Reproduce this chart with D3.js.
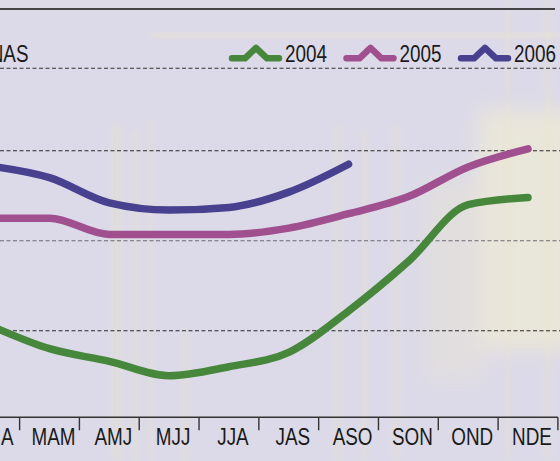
<!DOCTYPE html>
<html>
<head>
<meta charset="utf-8">
<script src="https://cdn.jsdelivr.net/npm/d3@7"></script>
<style>
  body { margin: 0; background: #dcdae8; }
  svg { display: block; }
  text { font-family: "Liberation Sans", Arial, sans-serif; fill: #1a1a1a; }
</style>
</head>
<body>
<div id="chart"></div>
<script>
// three-month windows shown on the x axis
var periods = ["FMA", "MAM", "AMJ", "MJJ", "JJA", "JAS", "ASO", "SON", "OND", "NDE"];
var years = ["2004", "2005", "2006"];
var colours = ["#46873c", "#a0508f", "#47418f"];

// values (same units as the gridlines)
var values2004 = [106, 80, 66, 50, 60, 76, 122, 177, 240, 248];
var values2005 = [225, 225, 207, 207, 207, 214, 230, 249, 282, 302];
var values2006 = [283, 270, 242, 234, 237, 254, 285];
var gridValues = [100, 200, 300];

var width = 560, height = 461;

var svg = d3.select("#chart")
            .append("svg")
            .attr("width", width)
            .attr("height", height);

// soft photo in the background
var defs = svg.append("defs");
defs.append("filter").attr("id", "blur")
    .attr("x", "-50%").attr("y", "-50%").attr("width", "200%").attr("height", "200%")
    .append("feGaussianBlur").attr("stdDeviation", 10);
defs.append("filter").attr("id", "blur2")
    .attr("x", "-100%").attr("width", "300%")
    .append("feGaussianBlur").attr("stdDeviation", 3);

svg.append("rect")
   .attr("width", width).attr("height", height)
   .attr("fill", "#dcdae8");

var photo = svg.append("g");
photo.append("rect").attr("x", 478).attr("y", 110).attr("width", 100).attr("height", 240)
     .attr("fill", "#f3eed2").attr("opacity", 0.6).attr("filter", "url(#blur)");
photo.append("rect").attr("x", 425).attr("y", 180).attr("width", 60).attr("height", 200)
     .attr("fill", "#ece6cf").attr("opacity", 0.35).attr("filter", "url(#blur)");
photo.append("rect").attr("x", 150).attr("y", 33).attr("width", 410).attr("height", 5)
     .attr("fill", "#eee8c8").attr("opacity", 0.5).attr("filter", "url(#blur2)");
var streaks = [[112, 125, 10], [132, 130, 6], [148, 120, 5], [182, 330, 6], [335, 125, 6],
               [362, 130, 5], [393, 125, 6], [545, 0, 6], [505, 0, 5]];
streaks.forEach(function (s) {
	photo.append("rect").attr("x", s[0]).attr("y", s[1]).attr("width", s[2]).attr("height", height - s[1])
	     .attr("fill", "#ebe4c4").attr("opacity", 0.3).attr("filter", "url(#blur2)");
});

// scales
var x = d3.scaleBand()
          .domain(periods)
          .range([-40.2, 557.9])
          .padding(0);
var y = d3.scaleLinear()
          .domain([100, 300])
          .range([330.7, 150.7]);

function cx(d) { return x(d) + x.bandwidth() / 2; }

// condensed look: squeeze Liberation Sans horizontally
function narrow(sel) {
	sel.each(function () {
		var w = this.getComputedTextLength();
		d3.select(this)
		  .attr("textLength", w * 0.82)
		  .attr("lengthAdjust", "spacingAndGlyphs");
	});
}

// top rule
svg.append("line")
   .attr("x1", 0).attr("x2", 555)
   .attr("y1", 9).attr("y2", 9)
   .attr("stroke", "#111").attr("stroke-width", 1.4);

// dashed rule under the legend
svg.append("line")
   .attr("x1", 0).attr("x2", width)
   .attr("y1", 68.3).attr("y2", 68.3)
   .attr("stroke", "#333").attr("stroke-width", 1.1)
   .attr("stroke-dasharray", "4,2.5");

// gridlines
svg.append("g")
   .selectAll("line")
   .data(gridValues)
   .enter()
   .append("line")
   .attr("x1", 0).attr("x2", width)
   .attr("y1", function (d) { return y(d); })
   .attr("y2", function (d) { return y(d); })
   .attr("stroke", function (d) { return d === 200 ? "#6b6a72" : "#2a2a2a"; })
   .attr("stroke-width", 1.1)
   .attr("stroke-dasharray", "4,2.5");

// unit label (cut off at the left edge)
svg.append("text")
   .attr("x", 28.5).attr("y", 62)
   .attr("text-anchor", "end")
   .style("font-size", "23px")
   .text("MILES DE PERSONAS")
   .call(narrow);

// x axis
var axisY = 417.3;
var axis = svg.append("g");
axis.append("line")
    .attr("x1", x.range()[0]).attr("x2", x.range()[1])
    .attr("y1", axisY).attr("y2", axisY)
    .attr("stroke", "#333").attr("stroke-width", 1.6);

var tickPos = periods.slice(1).map(function (d) { return x(d); });
tickPos.push(x.range()[1]);
axis.selectAll(".tick")
    .data(tickPos)
    .enter()
    .append("line")
    .attr("class", "tick")
    .attr("x1", function (d) { return d; })
    .attr("x2", function (d) { return d; })
    .attr("y1", axisY).attr("y2", axisY + 13)
    .attr("stroke", "#333").attr("stroke-width", 1.4);

axis.selectAll(".label")
    .data(periods)
    .enter()
    .append("text")
    .attr("class", "label")
    .attr("x", function (d) { return cx(d) + 4; })
    .attr("y", 445)
    .attr("text-anchor", "middle")
    .style("font-size", "23px")
    .text(function (d) { return d; })
    .call(narrow);

// lines
var series = [values2004, values2005, values2006];
var line = d3.line()
             .x(function (d, i) { return cx(periods[i]); })
             .y(function (d) { return y(d); })
             .curve(d3.curveMonotoneX);

svg.append("g")
   .selectAll("path")
   .data(series)
   .enter()
   .append("path")
   .attr("d", line)
   .attr("fill", "none")
   .attr("stroke", function (d, i) { return colours[i]; })
   .attr("stroke-width", 7.5)
   .attr("stroke-linecap", "round")
   .attr("stroke-linejoin", "round");

// legend
var legend = svg.append("g");
years.forEach(function (yr, i) {
	var lx = 232 + i * 114.5, ly = 58.3;
	legend.append("path")
	      .attr("d", "M" + lx + "," + ly + "h13l11,-10.5l11,10.5h12")
	      .attr("fill", "none")
	      .attr("stroke", colours[i])
	      .attr("stroke-width", 6.5)
	      .attr("stroke-linecap", "round")
	      .attr("stroke-linejoin", "round");
	legend.append("text")
	      .attr("x", lx + 53).attr("y", 61.8)
	      .style("font-size", "23px")
	      .text(yr)
	      .call(narrow);
});
</script>
</body>
</html>
